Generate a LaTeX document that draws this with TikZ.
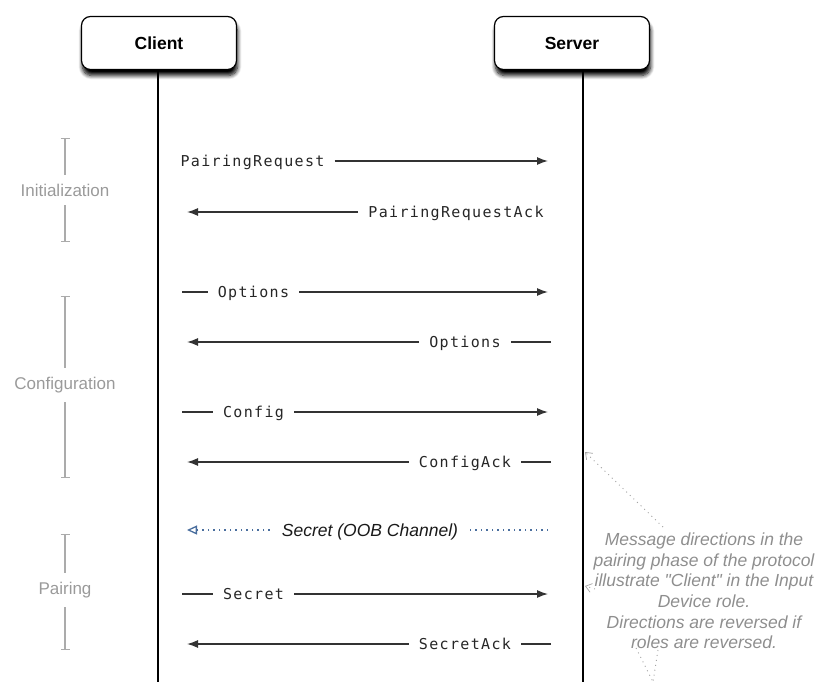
\documentclass[tikz,border=0pt]{standalone}
\usepackage{fontspec}
\setmainfont{Liberation Sans}
\newfontfamily\msgfont[LetterSpace=9]{DejaVu Sans Mono}
\usetikzlibrary{arrows.meta,shadows.blur}

\definecolor{phasegray}{HTML}{9A9A9A}
\definecolor{phaseline}{HTML}{ABABAB}
\definecolor{notegray}{HTML}{8E8E8E}
\definecolor{oobblue}{HTML}{4A6E9E}

\tikzset{
  actor/.style={draw=black, line width=1.2pt, fill=white, rounded corners=9pt,
    minimum width=155pt, minimum height=53pt,
    font=\fontsize{17.5}{20}\selectfont\bfseries,
    blur shadow={shadow xshift=1pt, shadow yshift=-6pt, shadow blur radius=4pt,
      shadow blur steps=8, shadow opacity=100}},
  lifeline/.style={line width=1.2pt, black},
  msgtext/.style={font=\msgfont\fontsize{15}{17}\selectfont, text=black!85,
    inner xsep=10pt, inner ysep=0pt, text height=11pt, text depth=0pt},
  msgline/.style={line width=1.3pt, black!80},
  msgarrow/.style={msgline, -{Latex[length=11pt,width=8pt]}},
  oobtext/.style={font=\fontsize{17.5}{20}\selectfont\itshape, text=black!90,
    inner xsep=12pt, inner ysep=0pt, text height=12pt, text depth=0pt},
  oobline/.style={oobblue, line width=1.1pt, dash pattern=on 1.5pt off 4pt},
  oobarrow/.style={oobline, -{Triangle[open,length=10pt,width=9pt,line width=1.3pt]}},
  phase/.style={font=\fontsize{17}{20}\selectfont, text=phasegray, inner ysep=9pt},
  phasebar/.style={phaseline, line width=1.1pt, {Bar[width=9pt,line width=1.1pt]}-},
  note/.style={font=\fontsize{17.5}{20.6}\selectfont\itshape, text=notegray, align=center, inner sep=0pt},
  noteline/.style={notegray!80, line width=0.9pt, dash pattern=on 1pt off 4pt},
  notearrow/.style={noteline, -{Straight Barb[length=6pt,width=9pt,line width=0.7pt]}}
}

\begin{document}
\begin{tikzpicture}[x=1pt,y=-1pt]
\useasboundingbox (0,0) rectangle (819,682);

% participants and their lifelines
\node[actor] (client) at (159,43) {Client};
\node[actor] (server) at (572,43) {Server};
\coordinate (clientEnd) at (158,682);
\coordinate (serverEnd) at (583,682);
\draw[lifeline] (client.south -| clientEnd) -- (clientEnd);
\draw[lifeline] (server.south -| serverEnd) -- (serverEnd);

% message end points near the lifelines
\foreach \n/\y in {a/161,b/212,c/292,d/342,e/412,f/462,g/530,h/594,i/644}{
  \coordinate (L\n) at (182,\y);
  \coordinate (La\n) at (187,\y);
  \coordinate (R\n) at (548,\y);
  \coordinate (Rs\n) at (551,\y);
}

% Initialization
\node[msgtext] (m1) at (252.5,161) {PairingRequest};
\draw[msgarrow] (m1.east) -- (Ra);
\node[msgtext] (m2) at (456,212) {PairingRequestAck};
\draw[msgarrow] (m2.west) -- (Lab);

% Configuration
\node[msgtext] (m3) at (253.5,292) {Options};
\draw[msgline] (Lc) -- (m3.west);
\draw[msgarrow] (m3.east) -- (Rc);
\node[msgtext] (m4) at (465,342) {Options};
\draw[msgline] (Rsd) -- (m4.east);
\draw[msgarrow] (m4.west) -- (Lad);
\node[msgtext] (m5) at (253.5,412) {Config};
\draw[msgline] (Le) -- (m5.west);
\draw[msgarrow] (m5.east) -- (Re);
\node[msgtext] (m6) at (465,462) {ConfigAck};
\draw[msgline] (Rsf) -- (m6.east);
\draw[msgarrow] (m6.west) -- (Laf);

% Pairing
\node[oobtext] (m7) at (370,530) {Secret (OOB Channel)};
\draw[oobline] (Rg) -- (m7.east);
\draw[oobarrow] (m7.west) -- (Lag);
\node[msgtext] (m8) at (253.5,594) {Secret};
\draw[msgline] (Lh) -- (m8.west);
\draw[msgarrow] (m8.east) -- (Rh);
\node[msgtext] (m9) at (465,644) {SecretAck};
\draw[msgline] (Rsi) -- (m9.east);
\draw[msgarrow] (m9.west) -- (Lai);

% phase brackets
\node[phase] (p1) at (65,190) {Initialization};
\coordinate (p1t) at (65,138); \coordinate (p1b) at (65,242);
\draw[phasebar] (p1t) -- (p1.north);
\draw[phasebar] (p1b) -- (p1.south);
\node[phase] (p2) at (65,385) {Configuration};
\coordinate (p2t) at (65,296); \coordinate (p2b) at (65,478);
\draw[phasebar] (p2t) -- (p2.north);
\draw[phasebar] (p2b) -- (p2.south);
\node[phase] (p3) at (65,590) {Pairing};
\coordinate (p3t) at (65,534); \coordinate (p3b) at (65,650);
\draw[phasebar] (p3t) -- (p3.north);
\draw[phasebar] (p3b) -- (p3.south);

% annotation on the pairing phase
\node[note] (note) at (704,591) {Message directions in the\\pairing phase of the protocol\\illustrate \textquotedbl Client\textquotedbl{} in the Input\\Device role.\\Directions are reversed if\\roles are reversed.};
\coordinate (nA) at (663,527);
\coordinate (sA) at (585,452);
\draw[notearrow] (nA) -- (sA);
\coordinate (nB) at (595,589);
\coordinate (sB) at (585,586);
\draw[notearrow] (nB) -- (sB);
\coordinate (nC) at (636,648);
\coordinate (nD) at (658,650);
\coordinate (nE) at (653,682);
\draw[noteline] (nC) -- (nE);
\draw[noteline] (nD) -- (nE);
\end{tikzpicture}
\end{document}
